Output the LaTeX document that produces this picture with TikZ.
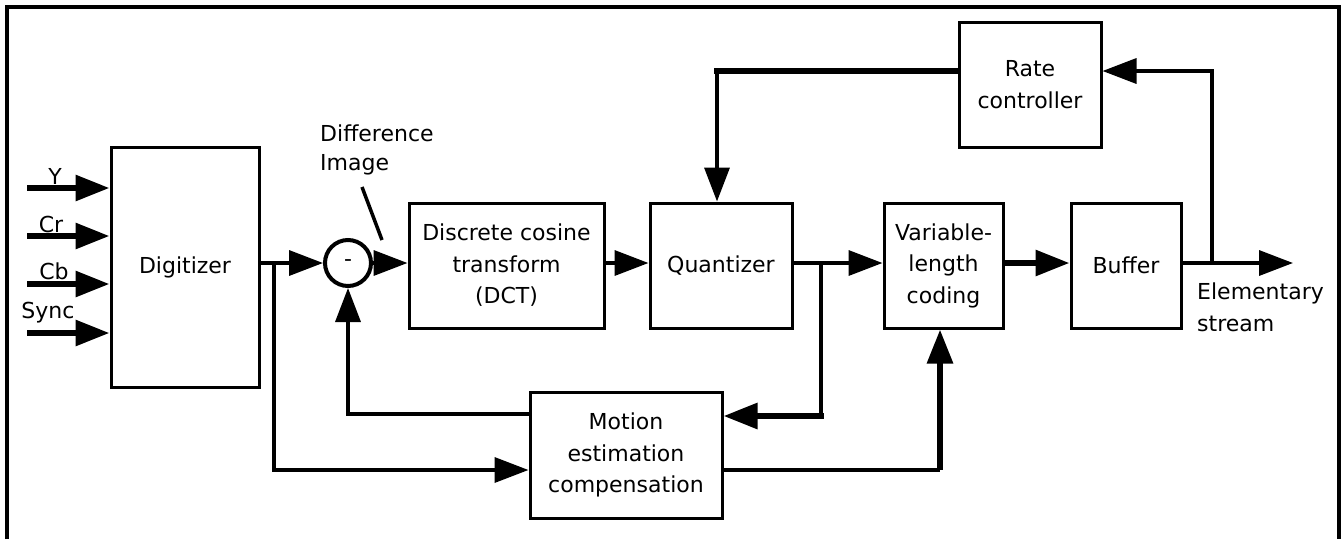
\documentclass[tikz,border=0pt]{standalone}
\usepackage{fontspec}
\setmainfont{DejaVu Sans}
\usetikzlibrary{arrows.meta}
\tikzset{
  box/.style={draw, line width=3pt, rectangle, align=center, inner sep=0pt},
  conn/.style={line width=3.5pt},
  thk/.style={line width=6pt},
  arr/.style={-{Triangle[length=34pt,width=25pt]}},
  lbl/.style={inner sep=0pt, align=left},
}
\begin{document}
\begin{tikzpicture}[x=1pt,y=-1pt,font=\fontsize{22}{31.5}\selectfont]
\useasboundingbox (0,0) rectangle (1341,539);
% frame
\coordinate (f1) at (7,539);
\coordinate (f2) at (7,7);
\coordinate (f3) at (1339,7);
\coordinate (f4) at (1339,539);
\draw[line width=3.5pt] (f1) -- (f2) -- (f3) -- (f4);

% blocks
\node[box, minimum width=148pt, minimum height=240pt] (dig) at (185,267) {Digitizer};
\node[draw, circle, line width=4pt, minimum size=46pt, inner sep=0pt] (sum) at (348,263) {\raisebox{-3pt}{-}};
\node[box, minimum width=195pt, minimum height=125pt] (dct) at (506.5,265.5) {Discrete cosine\\transform\\(DCT)};
\node[box, minimum width=142pt, minimum height=125pt] (q) at (721,265.5) {Quantizer};
\node[box, minimum width=119pt, minimum height=125pt] (vlc) at (943.5,265.5) {Variable-\\length\\coding};
\node[box, minimum width=110pt, minimum height=125pt] (buf) at (1126,265.5) {Buffer};
\node[box, minimum width=142pt, minimum height=125pt] (rate) at (1030,84.5) {Rate\\controller};
\node[box, minimum width=192pt, minimum height=126pt] (mot) at (626,455) {Motion\\estimation\\compensation};

% inputs
\coordinate (iy) at (27,188);
\coordinate (icr) at (27,236);
\coordinate (icb) at (27,284);
\coordinate (isy) at (27,333);
\draw[thk,arr] (iy) -- (iy -| dig.west);
\draw[thk,arr] (icr) -- (icr -| dig.west);
\draw[thk,arr] (icb) -- (icb -| dig.west);
\draw[thk,arr] (isy) -- (isy -| dig.west);
\node[lbl] (ly) at (55,176) {Y};
\node[lbl] (lcr) at (51,224) {Cr};
\node[lbl] (lcb) at (54,271) {Cb};
\node[lbl] (lsy) at (48,313) {Sync};

% difference image label
\node[lbl, anchor=west] (ld1) at (320,133) {Difference};
\node[lbl, anchor=west] (ld2) at (320,165) {Image};
\coordinate (p1) at (362,187);
\coordinate (p2) at (382,240);
\draw[conn] (p1) -- (p2);

% main flow
\draw[conn,arr] (dig.east |- sum) -- (sum.west);
\draw[conn,arr] (sum.east) -- (sum -| dct.west);
\draw[conn,arr] (sum -| dct.east) -- (sum -| q.west);
\draw[conn,arr] (sum -| q.east) -- (sum -| vlc.west);
\draw[thk,arr] (sum -| vlc.east) -- (sum -| buf.west);
\coordinate (out) at (1293,263);
\draw[conn,arr] (sum -| buf.east) -- (out);
\node[lbl, anchor=west] (le1) at (1197,293) {Elementary};
\node[lbl, anchor=west] (le2) at (1197,324) {stream};

% digitizer branch to motion
\coordinate (b1) at (274,263);
\coordinate (b1d) at (274,470);
\draw[conn,arr] (b1) -- (b1d) -- (b1d -| mot.west);

% motion feedback to subtractor
\coordinate (fb) at (348,414);
\draw[conn,arr] (fb -| mot.west) -- (fb) -- (sum.south);

% quantizer branch to motion
\coordinate (b2) at (821,263);
\coordinate (b2d) at (821,416);
\draw[conn] (b2) -- (b2d);
\draw[thk,arr,line cap=rect] (b2d) -- (b2d -| mot.east);

% motion to vlc
\coordinate (m2) at (940,470);
\draw[conn] (b1d -| mot.east) -- (m2);
\draw[thk,arr] (m2) -- (m2 |- vlc.south);

% buffer to rate controller
\coordinate (b3) at (1212,263);
\coordinate (b3u) at (1212,71);
\draw[conn,arr] (b3) -- (b3u) -- (b3u -| rate.east);

% rate controller to quantizer
\coordinate (r1) at (717,71);
\draw[thk,line cap=rect] (b3u -| rate.west) -- (r1);
\draw[conn,arr] (r1) -- (r1 |- q.north);
\end{tikzpicture}
\end{document}
